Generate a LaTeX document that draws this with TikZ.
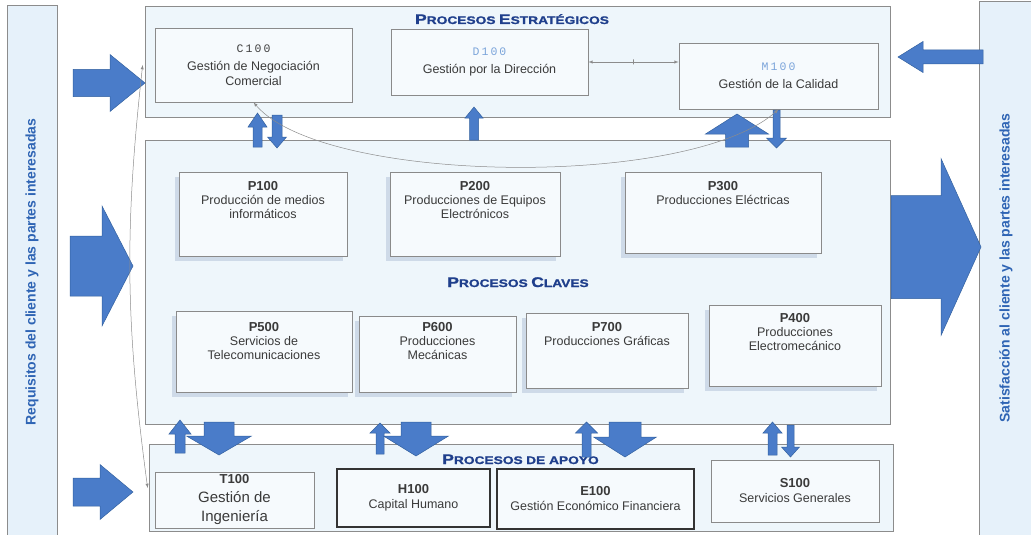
\documentclass[tikz,border=0pt]{standalone}
\usepackage{fontspec}
\setmainfont{Liberation Sans}
\newfontfamily\codefont[LetterSpace=18]{Liberation Mono}
\newfontfamily\headfont[FakeStretch=1.25,FakeBold=1.2]{Liberation Sans}
\usetikzlibrary{positioning,shadows,arrows}
\definecolor{arrowblue}{HTML}{4A7CC9}
\definecolor{arrowline}{HTML}{33619F}
\definecolor{panelfill}{HTML}{EEF6FB}
\definecolor{panelline}{HTML}{8C8C8C}
\definecolor{sidefill}{HTML}{E6F1FA}
\definecolor{sidetext}{HTML}{2E64B4}
\definecolor{boxfill}{HTML}{F6FAFD}
\definecolor{boxline}{HTML}{8A8A8A}
\definecolor{bodytext}{HTML}{3A3A3A}
\definecolor{titleblue}{HTML}{1F3F8C}
\definecolor{codedark}{HTML}{404040}
\definecolor{codelight}{HTML}{7BA4DA}
\definecolor{shadowc}{HTML}{7088B0}
\definecolor{linkgrey}{HTML}{8C8C8C}
\newcommand\hcap[2]{{\fontsize{14}{16}\selectfont #1}{\fontsize{11}{13}\selectfont #2}}
\newcommand\code[1]{{\fontsize{13}{15}\selectfont\bfseries #1}}
\newcommand\scode[2]{{\codefont\fontsize{11.5}{13}\selectfont\color{#1}#2}}
\tikzset{pics/barrow/.style n args={4}{code={%
  \filldraw[barr] (0,-#2/2) -- (#1-#4,-#2/2) -- (#1-#4,-#3/2) -- (#1,0) -- (#1-#4,#3/2) -- (#1-#4,#2/2) -- (0,#2/2) -- cycle;}}}
\begin{document}
\begin{tikzpicture}[x=1pt,y=-1pt,
  panel/.style={draw=panelline, fill=panelfill, line width=.7pt},
  side/.style={panel, fill=sidefill, rotate=90, text=sidetext, font=\fontsize{14}{16}\selectfont\bfseries},
  box/.style={draw=boxline, fill=boxfill, line width=.7pt, align=center, inner sep=1pt, text=bodytext, font=\fontsize{12.5}{15}\selectfont},
  pbox/.style={box, drop shadow={shadow xshift=-4pt, shadow yshift=-5pt, opacity=.25, fill=shadowc}},
  darkbox/.style={box, draw=black!80, line width=1.1pt},
  ptext/.style={align=center, text=bodytext, font=\fontsize{12.5}{14}\selectfont, inner sep=2pt},
  title/.style={text=titleblue, font=\headfont\bfseries, inner sep=0pt},
  link/.style={draw=linkgrey, line width=.5pt},
  midmark/.style={draw=linkgrey, line width=.5pt, inner sep=0pt, minimum width=0pt, minimum height=5pt},
  barr/.style={fill=arrowblue, draw=arrowline, line width=.5pt, line join=miter}]
\useasboundingbox (0,0) rectangle (1031,535);
\node[side, minimum width=534pt, minimum height=50pt] (req) at (32,272) {Requisitos del cliente y las partes interesadas};
\node[side, minimum width=534pt, minimum height=54pt] (sat) at (1006,268) {Satisfacción al cliente y las partes interesadas};
\node[panel, minimum width=745pt, minimum height=111pt] (estr) at (517.5,61.5) {};
\node[panel, minimum width=745pt, minimum height=284pt] (clav) at (517.5,282) {};
\node[panel, minimum width=744pt, minimum height=87pt] (apoy) at (521,487.5) {};

\node[title, anchor=base] (testr) at (512,24) {\hcap{P}{ROCESOS} \hcap{E}{STRATÉGICOS}};
\node[title, anchor=base] (tclav) at (518,287) {\hcap{P}{ROCESOS} \hcap{C}{LAVES}};
\node[title, anchor=base] (tapoy) at (520.5,464) {\hcap{P}{ROCESOS} \hcap{}{DE APOYO}};

\node[box, minimum width=197pt, minimum height=74pt] (c100) at (253.5,65) {\scode{codedark}{C100}\\[3pt]Gestión de Negociación\\Comercial};
\node[box, minimum width=197pt, minimum height=66pt] (d100) at (489.5,62) {\scode{codelight}{D100}\\[3pt]Gestión por la Dirección};
\node[box, minimum width=199pt, minimum height=66pt] (m100) at (778.5,76) {\scode{codelight}{M100}\\[3pt]Gestión de la Calidad};

\node[pbox, minimum width=168pt, minimum height=84pt] (p100) at (263,214) {};
\node[pbox, minimum width=170pt, minimum height=84pt] (p200) at (475,214) {};
\node[pbox, minimum width=196pt, minimum height=81pt] (p300) at (723,212.5) {};
\node[pbox, minimum width=176pt, minimum height=81pt] (p500) at (264,351.5) {};
\node[pbox, minimum width=157pt, minimum height=76pt] (p600) at (437.5,354) {};
\node[pbox, minimum width=162pt, minimum height=75pt] (p700) at (607,350.5) {};
\node[pbox, minimum width=172pt, minimum height=81pt] (p400) at (795,345.5) {};
\node[ptext, below=8pt of p100.north] (p100t) {\code{P100}\\Producción de medios\\informáticos};
\node[ptext, below=8pt of p200.north] (p200t) {\code{P200}\\Producciones de Equipos\\Electrónicos};
\node[ptext, below=8pt of p300.north] (p300t) {\code{P300}\\Producciones Eléctricas};
\node[ptext, below=10pt of p500.north] (p500t) {\code{P500}\\Servicios de\\Telecomunicaciones};
\node[ptext, below=5pt of p600.north] (p600t) {\code{P600}\\Producciones\\Mecánicas};
\node[ptext, below=8pt of p700.north] (p700t) {\code{P700}\\Producciones Gráficas};
\node[ptext, below=7pt of p400.north] (p400t) {\code{P400}\\Producciones\\Electromecánico};

\node[box, minimum width=159pt, minimum height=56pt, font=\fontsize{15}{19}\selectfont] (t100) at (234.5,500) {\code{T100}\\Gestión de\\Ingeniería};
\node[darkbox, minimum width=153pt, minimum height=58pt] (h100) at (413.5,498) {\code{H100}\\Capital Humano};
\node[darkbox, minimum width=197pt, minimum height=60pt] (e100) at (595.5,499) {\code{E100}\\Gestión Económico Financiera};
\node[box, minimum width=168pt, minimum height=62pt] (s100) at (795,491) {\code{S100}\\Servicios Generales};

\pic at (73,83) {barrow={72}{27}{57}{35}};
\pic at (70,266) {barrow={63}{60}{120}{31}};
\pic at (73,492) {barrow={60}{28}{55}{33}};
\pic[rotate=180] at (983,57) {barrow={85}{14}{31}{25}};
\pic at (891,247) {barrow={90}{103}{177}{40}};
\pic[rotate=90] at (257.5,147) {barrow={34}{9}{19}{14}};
\pic[rotate=-90] at (277,115) {barrow={33}{10}{19}{11}};
\pic[rotate=90] at (474,140) {barrow={33}{9}{18}{11}};
\pic[rotate=90] at (737,147) {barrow={33}{23}{63}{20}};
\pic[rotate=-90] at (776.5,110) {barrow={38}{7}{20}{10}};
\pic[rotate=90] at (180,453) {barrow={33}{10}{22}{14}};
\pic[rotate=-90] at (219,422) {barrow={33}{30}{65}{19}};
\pic[rotate=90] at (380,454) {barrow={31}{8}{20}{10}};
\pic[rotate=-90] at (416,422) {barrow={34}{30}{65}{20}};
\pic[rotate=90] at (586.5,457) {barrow={35}{9}{22}{11}};
\pic[rotate=-90] at (625,422) {barrow={35}{32}{63}{20}};
\pic[rotate=90] at (772.5,455) {barrow={33}{9}{19}{11}};
\pic[rotate=-90] at (790.5,425) {barrow={32}{7}{18}{10}};

\draw[link, <->, >=latex] (c100.south) .. controls +(70,82) and +(-90,80) .. (m100.south);
\draw[link, <->, >=latex] (d100.east) -- (d100.east -| m100.west) node[midway, midmark] (dm) {};
\draw[link, <->, >=latex] ([xshift=-12pt]c100.west) to[bend right=7] ([xshift=-7pt,yshift=12pt]t100.west);
\end{tikzpicture}
\end{document}
